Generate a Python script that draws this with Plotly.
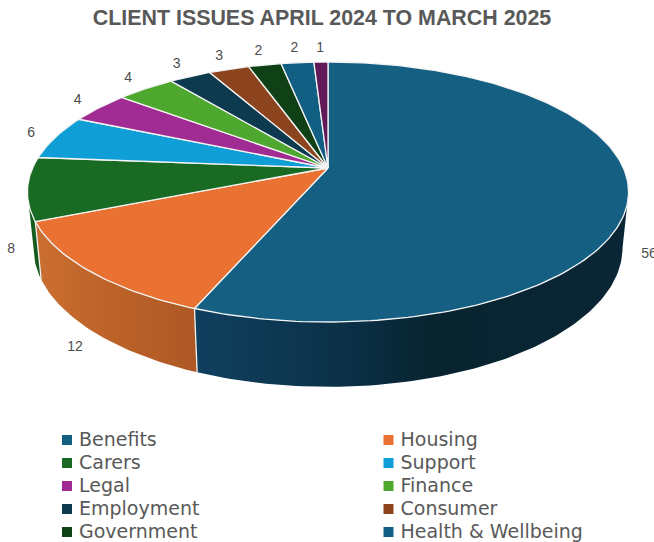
import math
import plotly.graph_objects as go

title = "CLIENT ISSUES APRIL 2024 TO MARCH 2025"
categories = ["Benefits", "Housing", "Carers", "Support", "Legal", "Finance",
              "Employment", "Consumer", "Government", "Health & Wellbeing", "Other"]
values = [56.0, 12.4, 7.8, 5.5, 3.9, 3.8, 2.7, 2.6, 2.1, 2.1, 0.9]
colors = ["#156082", "#E97132", "#196B24", "#0F9ED5", "#A02B93", "#4EA72E",
          "#0D3A4E", "#8C441E", "#0F4016", "#125F84", "#601A58"]
wall_gradients = {
    "Benefits": [[0, "#10405F"], [0.35, "#0B3047"], [0.55, "#07242F"], [1, "#0A2636"]],
    "Housing": [[0, "#CB6E31"], [0.5, "#BC6229"], [1, "#AD5825"]],
    "Carers": [[0, "#175F20"], [1, "#13561C"]],
}

W, H = 654, 542
CX, CY = 328, 168
A, B, K = 295.4, 125.6, 0.1846
DROP, XS, YS = 54, 0.98, 1.07
SIL = math.degrees(math.asin(K))


def top(angle, r=1.0):
    t = math.radians(angle)
    X, Y = r * math.sin(t), r * math.cos(t)
    s = 1 / (1 + K * Y)
    return CX + A * X * s, CY - B * Y * s


def bottom(angle, r=1.0):
    x, y = top(angle, r)
    return CX + XS * (x - CX), CY + DROP + YS * (y - CY)


def arc(a0, a1, fn):
    n = max(2, int(abs(a1 - a0)) + 2)
    return [fn(a0 + (a1 - a0) * i / (n - 1)) for i in range(n)]


total = sum(values)
edges = [0.0]
for v in values:
    edges.append(edges[-1] + v / total * 360)

fig = go.Figure()

# side walls
for name, a0, a1, col in zip(categories, edges[:-1], edges[1:], colors):
    lo, hi = max(a0, 90 + SIL), min(a1, 270 - SIL)
    if lo >= hi:
        continue
    pts = arc(lo, hi, top) + arc(hi, lo, bottom)
    pts.append(pts[0])
    fig.add_trace(go.Scatter(
        x=[p[0] for p in pts], y=[p[1] for p in pts], mode="lines",
        line=dict(width=0), fill="toself",
        fillgradient=dict(type="horizontal", colorscale=wall_gradients[name]),
        hoverinfo="skip", name=name + " side"))

for a in edges[1:]:
    if 90 + SIL < a < 270 - SIL:
        p, q = top(a), bottom(a)
        fig.add_trace(go.Scatter(x=[p[0], q[0]], y=[p[1], q[1]], mode="lines",
                                 line=dict(color="#F2F2F2", width=1.3), hoverinfo="skip"))

# top surface
for name, v, a0, a1, col in zip(categories, values, edges[:-1], edges[1:], colors):
    pts = [(CX, CY)] + arc(a0, a1, top) + [(CX, CY)]
    fig.add_trace(go.Scatter(
        x=[p[0] for p in pts], y=[p[1] for p in pts], mode="lines",
        line=dict(color="#F4F4F4", width=1.3), fill="toself", fillcolor=col,
        name=name, text=name, hoverinfo="text"))

# data labels
lx, ly, lt = [], [], []
for v, a0, a1 in zip(values, edges[:-1], edges[1:]):
    m = (a0 + a1) / 2
    t = math.radians(m)
    if 90 < m < 270:
        p = bottom(m, 1.08)
        p = (p[0] + 2, p[1] + 4)
    else:
        p = top(m)
        p = (p[0] + 25 * math.sin(t), p[1] - 14 * math.cos(t))
    lx.append(p[0]); ly.append(p[1]); lt.append(f"{v:.0f}")
fig.add_trace(go.Scatter(x=lx, y=ly, text=lt, mode="text", hoverinfo="skip",
                         textfont=dict(family="Liberation Sans", size=14, color="#4D4D4D")))

# legend key, two columns
COL_X, ROW_Y, COL_STEP, ROW_STEP, GAP = 67, 440, 321.5, 23, 12
shown = categories[:10]
kx = [COL_X + COL_STEP * (i % 2) for i in range(len(shown))]
ky = [ROW_Y + ROW_STEP * (i // 2) for i in range(len(shown))]
fig.add_trace(go.Scatter(x=kx, y=ky, mode="markers", hoverinfo="skip",
                         marker=dict(symbol="square", size=10, color=colors[:10], line=dict(width=0))))
fig.add_trace(go.Scatter(x=[v + GAP for v in kx], y=[v + 1 for v in ky], text=shown, mode="text",
                         textposition="middle right", hoverinfo="skip",
                         textfont=dict(family="DejaVu Sans", size=19, color="#595959")))

fig.update_layout(
    width=W, height=H, autosize=False, showlegend=False,
    margin=dict(l=0, r=0, t=0, b=0),
    paper_bgcolor="white", plot_bgcolor="white",
    title=dict(text=title, x=322 / W, xanchor="center", y=1 - 18 / H, yanchor="middle",
               font=dict(family="Liberation Sans", size=21.4, color="#595959", weight="bold")),
    xaxis=dict(range=[0, W], visible=False, fixedrange=True),
    yaxis=dict(range=[H, 0], visible=False, fixedrange=True),
)
fig.write_html("out.html", config=dict(displayModeBar=False),
               post_script="document.body.style.margin='0';")
